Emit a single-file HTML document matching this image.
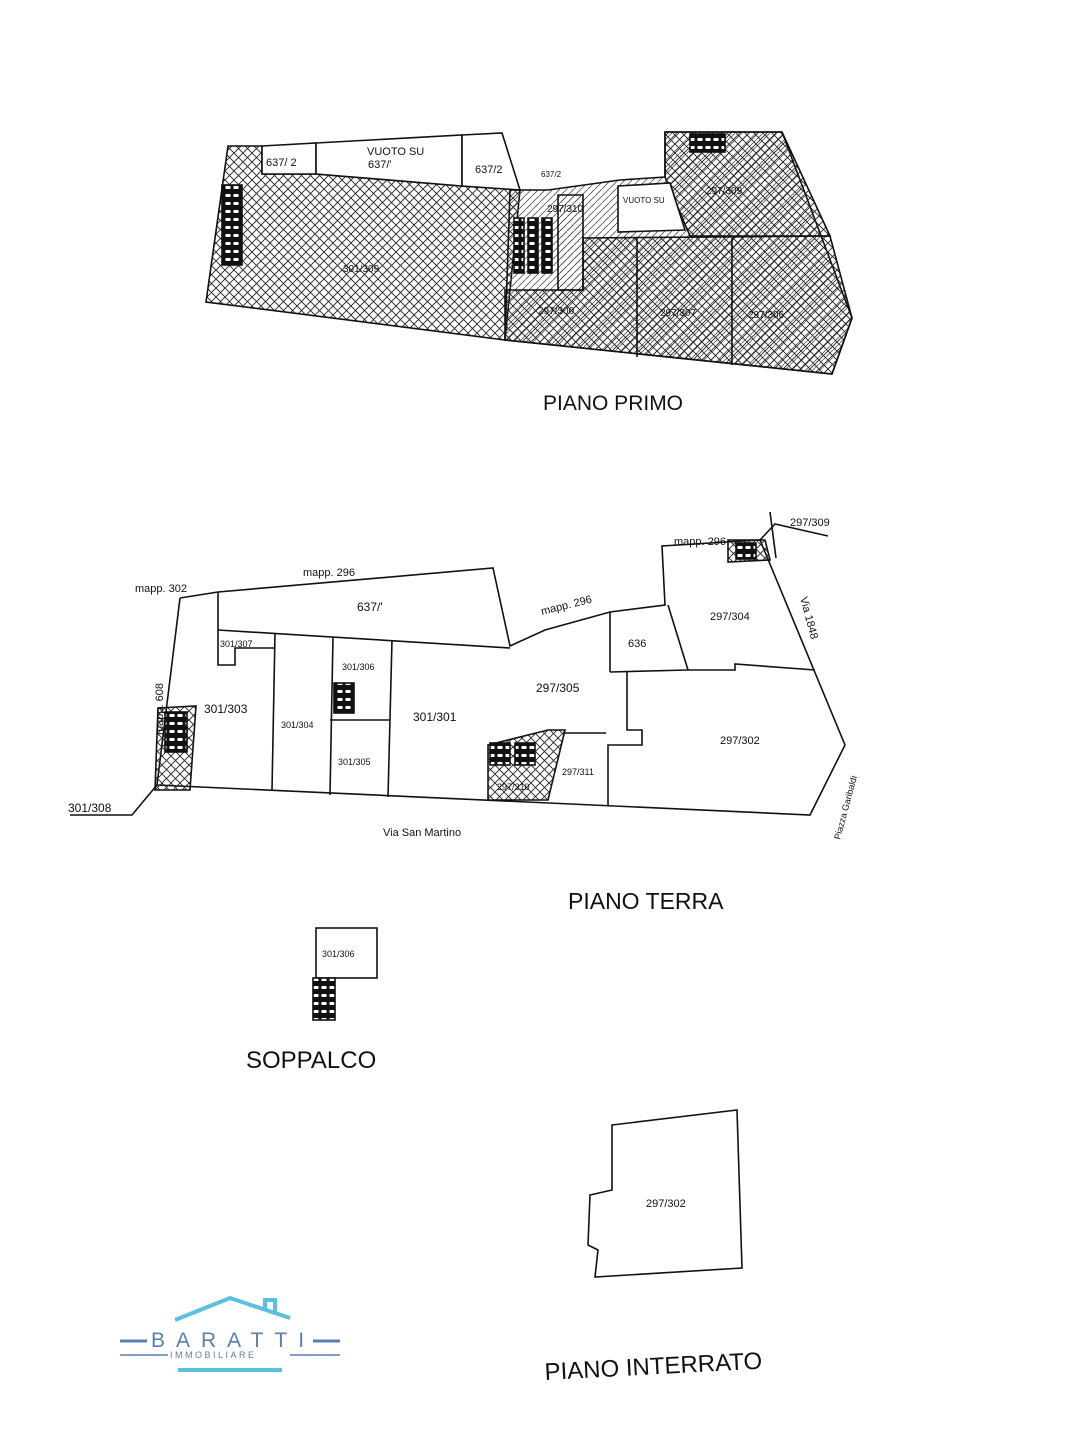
<!DOCTYPE html>
<html><head><meta charset="utf-8"><style>
html,body{margin:0;padding:0;background:#fff;}
svg{display:block;font-family:"Liberation Sans",Arial,sans-serif;}
</style></head><body>
<svg width="1080" height="1440" viewBox="0 0 1080 1440" xmlns="http://www.w3.org/2000/svg">
<defs>
<pattern id="x" width="9" height="9" patternUnits="userSpaceOnUse">
<path d="M0 0L9 9M9 0L0 9" stroke="#222" stroke-width="0.9"/>
</pattern>
<pattern id="d" width="7" height="7" patternUnits="userSpaceOnUse">
<path d="M0 7L7 0" stroke="#555" stroke-width="0.8"/>
</pattern>
<pattern id="st" width="8" height="8" patternUnits="userSpaceOnUse">
<rect width="8" height="8" fill="#111"/><rect x="1.5" y="2" width="5" height="3" fill="#fff"/>
</pattern>
</defs>
<g stroke="#111" stroke-width="1.6" fill="none">
<!-- PIANO PRIMO -->
<polygon points="228,146 262,146 262,174 316,174 462,186 520,190 505,340 206,302" fill="url(#x)"/>
<polygon points="262,146 316,143 316,174 262,174" fill="#fff"/>
<polygon points="316,143 462,135 462,186 316,174" fill="#fff"/>
<polygon points="462,135 502,133 520,190 462,186" fill="#fff"/>
<polygon points="510,190 548,190 620,180 665,177 665,132 782,132 852,318 832,374 505,340" fill="url(#d)"/>
<polygon points="583,238 830,236 852,318 832,374 505,340 505,290 583,290" fill="url(#x)"/>
<polygon points="665,132 782,132 830,236 690,236 665,177" fill="url(#x)"/>
<polygon points="618,186 670,183 685,230 618,232" fill="#fff"/>
<line x1="637" y1="238" x2="637" y2="357"/>
<line x1="732" y1="238" x2="732" y2="365"/>
<polygon points="558,195 583,195 583,290 558,290" fill="url(#d)"/>
<rect x="514" y="218" width="10" height="55" fill="url(#st)"/>
<rect x="528" y="218" width="10" height="55" fill="url(#st)"/>
<rect x="542" y="218" width="10" height="55" fill="url(#st)"/>
<rect x="222" y="185" width="20" height="80" fill="url(#st)"/>
<rect x="690" y="134" width="35" height="18" fill="url(#st)"/>
<!-- PIANO TERRA -->
<polyline points="180,598 218,592 493,568 510,646 545,630 610,612 665,605 662,546 760,540 845,745 810,815 157,785 180,598"/>
<line x1="218" y1="592" x2="218" y2="630"/>
<polyline points="218,630 510,648"/>
<polyline points="218,630 218,665 235,665 235,648 275,648"/>
<line x1="275" y1="633" x2="272" y2="790"/>
<line x1="333" y1="637" x2="330" y2="795"/>
<line x1="392" y1="640" x2="388" y2="797"/>
<line x1="330" y1="720" x2="390" y2="720"/>
<line x1="610" y1="612" x2="610" y2="672"/>
<line x1="668" y1="605" x2="688" y2="670"/>
<polyline points="610,672 688,670 735,670 735,664 815,670"/>
<polyline points="627,672 627,730 642,730 642,745 608,745 608,805"/>
<polyline points="565,733 606,733"/>
<polygon points="488,745 548,730 565,730 548,800 488,800" fill="url(#x)"/>
<rect x="490" y="743" width="20" height="22" fill="url(#st)"/>
<rect x="515" y="743" width="20" height="22" fill="url(#st)"/>
<polygon points="158,708 196,706 190,790 155,790" fill="url(#x)"/>
<rect x="165" y="712" width="22" height="40" fill="url(#st)"/>
<rect x="334" y="683" width="20" height="30" fill="url(#st)"/>
<polygon points="728,540 765,540 770,560 728,562" fill="url(#x)"/>
<rect x="736" y="543" width="20" height="16" fill="url(#st)"/>
<polyline points="70,815 132,815 157,785"/>
<polyline points="760,540 775,524 828,536"/>
<line x1="770" y1="512" x2="776" y2="558"/>
<!-- SOPPALCO -->
<rect x="316" y="928" width="61" height="50" fill="#fff"/>
<rect x="313" y="978" width="22" height="42" fill="url(#st)"/>
<!-- INTERRATO -->
<polygon points="612,1125 737,1110 742,1268 595,1277 598,1250 588,1245 590,1195 612,1190"/>
</g>
<g fill="#111" font-size="10">
<text x="266" y="166" font-size="11">637/ 2</text>
<text x="367" y="155" font-size="11">VUOTO SU</text><text x="368" y="168" font-size="11">637/'</text>
<text x="475" y="173" font-size="11">637/2</text>
<text x="541" y="177" font-size="8">637/2</text>
<text x="547" y="212">297/310</text>
<text x="623" y="203" font-size="8">VUOTO SU</text>
<text x="706" y="194">297/309</text>
<text x="343" y="272">301/309</text>
<text x="538" y="314">297/300</text>
<text x="660" y="316">297/307</text>
<text x="748" y="318">297/306</text>
<text x="543" y="410" font-size="21">PIANO PRIMO</text>
<text x="135" y="592" font-size="11">mapp. 302</text>
<text x="303" y="576" font-size="11">mapp. 296</text>
<text x="542" y="615" font-size="11" transform="rotate(-14 542 615)">mapp. 296</text>
<text x="674" y="545" font-size="11">mapp. 296</text>
<text x="790" y="526" font-size="11">297/309</text>
<text x="357" y="611" font-size="12">637/'</text>
<text x="220" y="647" font-size="9">301/307</text>
<text x="342" y="670" font-size="9">301/306</text>
<text x="204" y="713" font-size="12">301/303</text>
<text x="281" y="728" font-size="9">301/304</text>
<text x="413" y="721" font-size="12">301/301</text>
<text x="338" y="765" font-size="9">301/305</text>
<text x="536" y="692" font-size="12">297/305</text>
<text x="497" y="790" font-size="9">297/310</text>
<text x="562" y="775" font-size="9">297/311</text>
<text x="628" y="647" font-size="11">636</text>
<text x="710" y="620" font-size="11">297/304</text>
<text x="720" y="744" font-size="11">297/302</text>
<text x="68" y="812" font-size="12">301/308</text>
<text x="383" y="836" font-size="11">Via San Martino</text>
<text x="163" y="735" font-size="11" transform="rotate(-90 163 735)">mapp. 608</text>
<text x="800" y="598" font-size="11" transform="rotate(75 800 598)">Via 1848</text>
<text x="840" y="840" font-size="9" transform="rotate(-75 840 840)">Piazza Garibaldi</text>
<text x="568" y="909" font-size="23">PIANO TERRA</text>
<text x="322" y="957" font-size="9">301/306</text>
<text x="246" y="1068" font-size="24">SOPPALCO</text>
<text x="646" y="1207" font-size="11">297/302</text>
<text x="545" y="1380" font-size="24" transform="rotate(-3 545 1380)">PIANO INTERRATO</text>
</g>
<!-- logo -->
<g fill="none" stroke="#5bbfe0" stroke-width="4">
<polyline points="175,1320 230,1298 290,1318"/>
<polyline points="265,1310 265,1300 275,1300 275,1314"/>
</g>
<g font-family="Liberation Sans,sans-serif">
<line x1="120" y1="1341" x2="147" y2="1341" stroke="#5a7fb0" stroke-width="3"/>
<line x1="313" y1="1341" x2="340" y2="1341" stroke="#5a7fb0" stroke-width="3"/>
<text x="151" y="1347" font-size="21" fill="#5a7fb0" letter-spacing="11">BARATTI</text>
<line x1="120" y1="1355" x2="168" y2="1355" stroke="#5a7fb0" stroke-width="1.5"/>
<line x1="290" y1="1355" x2="340" y2="1355" stroke="#5a7fb0" stroke-width="1.5"/>
<text x="170" y="1358" font-size="9" fill="#5a7fb0" letter-spacing="2.5">IMMOBILIARE</text>
<rect x="178" y="1368" width="104" height="4" fill="#5bbfe0"/>
</g>
</svg>
</body></html>
